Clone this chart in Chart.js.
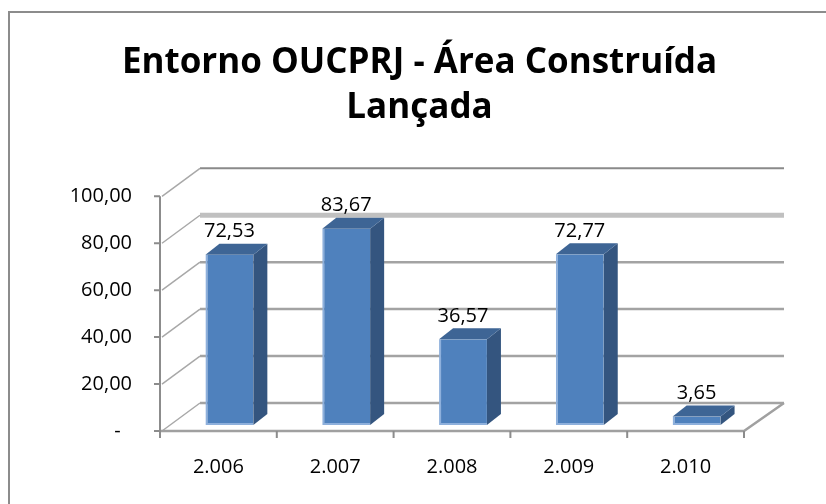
<!DOCTYPE html>
<html>
<head>
<meta charset="utf-8">
<script src="https://cdn.jsdelivr.net/npm/chart.js@4.4.1/dist/chart.umd.min.js"></script>
<style>
  body { margin: 0; background: #fff; }
  canvas { display: block; }
</style>
</head>
<body>
<canvas id="myChart" width="826" height="504"></canvas>
<script>
// data
var years = ['2.006', '2.007', '2.008', '2.009', '2.010'];
var builtArea = [72.53, 83.67, 36.57, 72.77, 3.65];
var yTickValues = [0, 20, 40, 60, 80, 100];

// fake 3D: back wall offset and bar depth
var WALL = { dx: 40, dy: -28 };
var BAR_SHIFT = { dx: 11, dy: -6 };
var BAR_DEPTH = { dx: 14, dy: -11 };

function fmt(v) {
    if (v === 0) return '-\u2007';
    return v.toFixed(2).replace('.', ',');
}

var excel3d = {
    id: 'excel3d',
    beforeDraw: function (chart) {
        // chart frame: only top and left edges show in the crop
        var c = chart.ctx;
        c.save();
        c.strokeStyle = '#8c8c8c';
        c.lineWidth = 2;
        c.beginPath();
        c.moveTo(9, 504);
        c.lineTo(9, 12);
        c.lineTo(826, 12);
        c.stroke();
        c.restore();
    },
    beforeDatasetsDraw: function (chart) {
        var c = chart.ctx, a = chart.chartArea, y = chart.scales.y;
        c.save();
        // back wall grid lines + left wall diagonals
        yTickValues.forEach(function (v) {
            var yf = y.getPixelForValue(v), yb = yf + WALL.dy;
            if (v === 80) { c.strokeStyle = '#c0c0c0'; c.lineWidth = 5; }
            else if (v === 100) { c.strokeStyle = '#8a8a8a'; c.lineWidth = 2; }
            else { c.strokeStyle = '#a3a3a3'; c.lineWidth = 2.5; }
            c.beginPath();
            c.moveTo(a.left + WALL.dx, yb);
            c.lineTo(a.right + WALL.dx, yb);
            c.stroke();
            c.strokeStyle = '#a8a8a8';
            c.lineWidth = 1.5;
            c.beginPath();
            c.moveTo(a.left + 2, yf);
            c.lineTo(a.left + WALL.dx, yb);
            c.stroke();
        });
        // floor front edge
        c.strokeStyle = '#a0a0a0';
        c.lineWidth = 2.5;
        c.beginPath();
        c.moveTo(a.left, a.bottom);
        c.lineTo(a.right, a.bottom);
        c.lineTo(a.right + WALL.dx, a.bottom + WALL.dy);
        c.stroke();
        // front value axis and ticks
        c.strokeStyle = '#8c8c8c';
        c.lineWidth = 2;
        c.beginPath();
        c.moveTo(a.left, a.top);
        c.lineTo(a.left, a.bottom);
        yTickValues.forEach(function (v) {
            var yy = y.getPixelForValue(v);
            c.moveTo(a.left - 6, yy);
            c.lineTo(a.left, yy);
        });
        c.stroke();
        // category ticks at boundaries
        var step = (a.right - a.left) / years.length;
        c.beginPath();
        for (var i = 0; i <= years.length; i++) {
            var xx = a.left + i * step;
            c.moveTo(xx, a.bottom);
            c.lineTo(xx, a.bottom + 7);
        }
        c.stroke();
        c.restore();
    },
    beforeDatasetDraw: function (chart) {
        chart.ctx.save();
        chart.ctx.translate(BAR_SHIFT.dx, BAR_SHIFT.dy);
    },
    afterDatasetDraw: function (chart, args) {
        var c = chart.ctx;
        args.meta.data.forEach(function (bar) {
            var p = bar.getProps(['x', 'y', 'base', 'width'], true);
            var l = p.x - p.width / 2, r = p.x + p.width / 2;
            c.fillStyle = '#34557f';
            c.beginPath();
            c.moveTo(r, p.y);
            c.lineTo(r + BAR_DEPTH.dx, p.y + BAR_DEPTH.dy);
            c.lineTo(r + BAR_DEPTH.dx, p.base + BAR_DEPTH.dy);
            c.lineTo(r, p.base);
            c.closePath();
            c.fill();
            c.fillStyle = '#3e6595';
            c.beginPath();
            c.moveTo(l, p.y);
            c.lineTo(l + BAR_DEPTH.dx, p.y + BAR_DEPTH.dy);
            c.lineTo(r + BAR_DEPTH.dx, p.y + BAR_DEPTH.dy);
            c.lineTo(r, p.y);
            c.closePath();
            c.fill();
        });
        c.restore();
    },
    afterDatasetsDraw: function (chart) {
        var c = chart.ctx, meta = chart.getDatasetMeta(0);
        c.save();
        c.fillStyle = '#000';
        c.font = '20px "Open Sans"';
        c.textAlign = 'center';
        c.textBaseline = 'middle';
        meta.data.forEach(function (bar, i) {
            c.fillText(fmt(builtArea[i]), bar.x + BAR_SHIFT.dx, bar.y + BAR_SHIFT.dy - 23);
        });
        c.restore();
    }
};

var ctx = document.getElementById('myChart').getContext('2d');
var chart = new Chart(ctx, {
    type: 'bar',
    data: {
        labels: years,
        datasets: [{
            label: 'Área Construída Lançada',
            data: builtArea,
            backgroundColor: '#4f81bd',
            borderColor: '#8eb0dc',
            borderWidth: { left: 2, bottom: 2, top: 0, right: 0 },
            borderSkipped: false,
            barPercentage: 0.41,
            categoryPercentage: 1
        }]
    },
    options: {
        responsive: false,
        animation: false,
        layout: { padding: { left: 13, right: 0, top: 0, bottom: 0 } },
        plugins: {
            legend: { display: false },
            tooltip: { enabled: false },
            title: {
                display: true,
                text: ['Entorno OUCPRJ - Área Construída', 'Lançada'],
                color: '#000',
                font: { family: '"Open Sans"', size: 35, weight: 'bold', lineHeight: 1.29 },
                padding: { top: 40, bottom: 66 }
            }
        },
        scales: {
            x: {
                grid: { display: false, drawTicks: false },
                border: { display: false },
                ticks: { color: '#000', font: { family: '"Open Sans"', size: 20 }, padding: 24, maxRotation: 0 },
                afterFit: function (s) { s.height = 73; }
            },
            y: {
                min: 0,
                max: 100,
                grid: { display: false, drawTicks: false },
                border: { display: false },
                ticks: {
                    stepSize: 20,
                    color: '#000',
                    font: { family: '"Open Sans"', size: 20 },
                    padding: 28,
                    callback: function (v) { return fmt(v); }
                },
                afterFit: function (s) { s.width = 147; }
            },
            // empty spacer on the right, keeps the plot off the right edge
            spacer: {
                type: 'linear',
                position: 'right',
                display: true,
                grid: { display: false, drawTicks: false },
                border: { display: false },
                ticks: { display: false },
                afterFit: function (s) { s.width = 82; }
            }
        }
    },
    plugins: [excel3d]
});
</script>
</body>
</html>
